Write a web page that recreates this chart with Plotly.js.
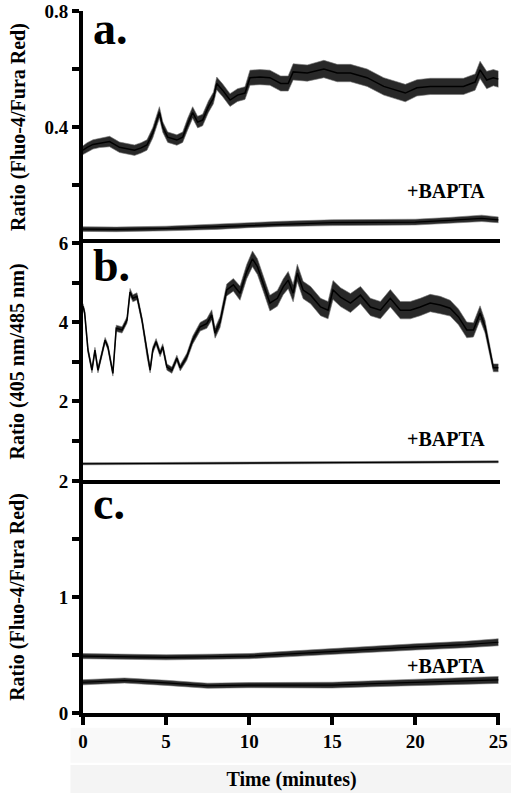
<!DOCTYPE html>
<html>
<head>
<meta charset="utf-8">
<script src="https://cdn.plot.ly/plotly-3.0.1.min.js"></script>
<style>html,body{margin:0;padding:0;background:#fff;}#chart{width:511px;height:793px;}</style>
</head>
<body>
<div id="chart"></div>
<script>
// ---- Data (time in minutes) ----
// Panel a: Fluo-4/Fura Red ratio (control) and +BAPTA
const aTime   = [0,0.25,0.6,1.0,1.6,2.2,2.7,3.1,3.5,3.85,4.2,4.6,4.8,5.1,5.65,6.0,6.3,6.6,6.9,7.2,7.55,7.85,8.05,8.4,8.85,9.3,9.75,10.05,10.65,11.25,11.9,12.35,12.65,13.5,14.5,15.3,16.1,17.1,18.1,18.9,19.4,20.1,20.9,21.9,22.9,23.6,23.9,24.3,24.7,25.0];
const aRatio  = [0.32,0.33,0.34,0.345,0.35,0.33,0.325,0.32,0.328,0.338,0.38,0.45,0.40,0.365,0.355,0.365,0.41,0.45,0.417,0.424,0.47,0.50,0.55,0.527,0.493,0.51,0.517,0.57,0.572,0.57,0.55,0.55,0.59,0.586,0.60,0.586,0.586,0.57,0.54,0.527,0.517,0.535,0.54,0.54,0.54,0.555,0.597,0.562,0.57,0.565];
const aSpread = [0.015,0.016,0.016,0.016,0.018,0.018,0.018,0.018,0.018,0.018,0.018,0.02,0.018,0.018,0.018,0.018,0.02,0.02,0.02,0.02,0.02,0.02,0.022,0.022,0.022,0.022,0.022,0.026,0.026,0.026,0.026,0.026,0.028,0.028,0.03,0.03,0.03,0.03,0.03,0.03,0.03,0.028,0.028,0.028,0.028,0.028,0.03,0.03,0.028,0.028];
const aBaptaTime   = [0,2,5,8,10,12,15,18,20,22,24,25];
const aBaptaRatio  = [0.048,0.047,0.05,0.056,0.062,0.066,0.07,0.071,0.072,0.078,0.085,0.08];
const aBaptaSpread = [0.008,0.008,0.008,0.009,0.009,0.009,0.01,0.01,0.01,0.01,0.011,0.01];

// Panel b: 405 nm / 485 nm ratio (control) and +BAPTA
const bTime   = [0,0.1,0.3,0.54,0.72,0.9,1.14,1.33,1.5,1.8,2.0,2.35,2.65,2.83,3.0,3.25,3.55,3.85,4.04,4.2,4.4,4.64,4.8,5.05,5.35,5.65,5.85,6.25,6.6,7.05,7.45,7.75,7.95,8.25,8.65,9.05,9.45,9.85,10.2,10.5,10.85,11.25,11.7,12.05,12.35,12.65,12.9,13.25,13.7,14.3,14.75,15.05,15.5,16.1,16.7,17.3,17.9,18.5,19.1,19.7,20.3,20.9,21.5,22.1,22.6,23.1,23.5,23.9,24.2,24.5,24.7,25.0];
const bRatio  = [4.4,4.23,3.29,2.78,3.29,2.78,3.2,3.54,3.37,2.7,3.84,3.8,4.05,4.76,4.6,4.65,4.05,3.2,2.78,3.29,3.5,3.2,3.37,2.86,2.78,3.08,2.84,3.12,3.54,3.88,3.96,4.18,3.72,4.0,4.81,4.94,4.73,5.27,5.6,5.4,4.98,4.48,4.6,4.89,5.06,4.73,5.24,4.81,4.68,4.38,4.3,4.81,4.63,4.48,4.68,4.38,4.3,4.6,4.3,4.3,4.38,4.48,4.43,4.35,4.13,3.8,3.8,4.23,3.88,3.2,2.84,2.84];
const bSpread = [0.07,0.07,0.07,0.07,0.07,0.07,0.07,0.07,0.07,0.07,0.08,0.08,0.08,0.09,0.09,0.09,0.08,0.08,0.07,0.08,0.08,0.08,0.08,0.08,0.08,0.08,0.08,0.09,0.1,0.11,0.12,0.13,0.13,0.14,0.15,0.16,0.18,0.18,0.2,0.2,0.2,0.2,0.2,0.2,0.22,0.22,0.22,0.22,0.22,0.22,0.22,0.24,0.24,0.24,0.22,0.22,0.22,0.22,0.22,0.22,0.22,0.22,0.22,0.2,0.2,0.2,0.18,0.18,0.16,0.12,0.1,0.1];
const bBaptaTime   = [0,5,10,15,20,25];
const bBaptaRatio  = [0.41,0.42,0.43,0.44,0.45,0.46];
const bBaptaSpread = [0.025,0.025,0.025,0.025,0.025,0.025];

// Panel c: Fluo-4/Fura Red ratio, two traces (upper and +BAPTA)
const cTime   = [0,2.5,5,7.5,10,12.5,15,18,20,23,25];
const cUpper  = [0.49,0.485,0.48,0.485,0.49,0.51,0.53,0.56,0.57,0.59,0.61];
const cLower  = [0.265,0.28,0.26,0.235,0.24,0.24,0.24,0.255,0.265,0.275,0.285];
const cSpread = [0.022,0.022,0.022,0.022,0.022,0.024,0.025,0.026,0.027,0.028,0.03];

// Axis tick definitions
const xTicks   = [0,5,10,15,20,25];
const aTickVals = [0.2,0.4,0.6,0.8];
const aTickText = ['','0.4','','0.8'];
const bTickVals = [1,2,3,4,5,6];
const bTickText = ['','2','','4','','6'];
const cTickVals = [0,0.5,1,1.5,2];
const cTickText = ['0','','1','','2'];

// ---- Build traces ----
function band(t, v, s, xa, ya, coreWidth) {
  const lo = v.map((val, i) => val - s[i]);
  const hi = v.map((val, i) => val + s[i]);
  return [
    {x: t, y: lo, xaxis: xa, yaxis: ya, mode: 'lines', line: {color: '#777', width: 0.6}, hoverinfo: 'skip', showlegend: false},
    {x: t, y: hi, xaxis: xa, yaxis: ya, mode: 'lines', fill: 'tonexty', fillcolor: 'rgba(10,10,10,0.88)', line: {color: '#777', width: 0.6}, hoverinfo: 'skip', showlegend: false},
    {x: t, y: v, xaxis: xa, yaxis: ya, mode: 'lines', line: {color: '#000', width: coreWidth}, showlegend: false}
  ];
}

const data = [].concat(
  band(aTime, aRatio, aSpread, 'x3', 'y', 1.5),
  band(aBaptaTime, aBaptaRatio, aBaptaSpread, 'x3', 'y', 1.2),
  band(bTime, bRatio, bSpread, 'x2', 'y2', 1.5),
  band(bBaptaTime, bBaptaRatio, bBaptaSpread, 'x2', 'y2', 1),
  band(cTime, cUpper, cSpread, 'x', 'y3', 1.2),
  band(cTime, cLower, cSpread, 'x', 'y3', 1.2)
);

const serif = 'Liberation Serif';
const tickFont = {family: serif, size: 19, color: '#000', weight: 700};
const titleFont = {family: serif, size: 20, color: '#000', weight: 700};
const letterFont = {family: serif, size: 46, color: '#000', weight: 700};
const noteFont = {family: serif, size: 20, color: '#000', weight: 700};

const yCommon = {
  showline: true, linewidth: 4, linecolor: '#000', ticks: 'outside', ticklen: 7, tickwidth: 4, tickcolor: '#000',
  showgrid: false, zeroline: false, tickfont: tickFont, tickmode: 'array', fixedrange: true
};

const layout = {
  width: 511, height: 793,
  margin: {l: 83, r: 11, t: 11, b: 80},
  paper_bgcolor: '#fff', plot_bgcolor: '#fff',
  showlegend: false,
  font: {family: serif},
  xaxis: {
    domain: [0, 1], anchor: 'y3', range: [0, 25.1], tickmode: 'array', tickvals: xTicks,
    showline: true, linewidth: 4, linecolor: '#000', ticks: 'outside', ticklen: 8, tickwidth: 4, tickcolor: '#000',
    showgrid: false, zeroline: false, tickfont: tickFont,
    title: {text: 'Time (minutes)', font: titleFont, standoff: 22}
  },
  xaxis2: {domain: [0, 1], anchor: 'y2', matches: 'x', range: [0, 25.1], showline: true, mirror: true, linewidth: 4, linecolor: '#000', ticks: '', showticklabels: false, showgrid: false, zeroline: false},
  xaxis3: {domain: [0, 1], anchor: 'y', matches: 'x', range: [0, 25.1], showline: false, ticks: '', showticklabels: false, showgrid: false, zeroline: false},
  yaxis: Object.assign({}, yCommon, {domain: [0.6695, 1], anchor: 'x3', range: [0, 0.8], tickvals: aTickVals, ticktext: aTickText,
    title: {text: 'Ratio (Fluo-4/Fura Red)', font: titleFont, standoff: 14}}),
  yaxis2: Object.assign({}, yCommon, {domain: [0.3319, 0.6695], anchor: 'x2', range: [0, 6], tickvals: bTickVals, ticktext: bTickText,
    title: {text: 'Ratio (405 nm/485 nm)', font: titleFont, standoff: 30}}),
  yaxis3: Object.assign({}, yCommon, {domain: [0, 0.3305], anchor: 'x', range: [0, 2], tickvals: cTickVals, ticktext: cTickText,
    title: {text: 'Ratio (Fluo-4/Fura Red)', font: titleFont, standoff: 30}}),
  shapes: [
    {type: 'rect', xref: 'paper', yref: 'paper', x0: -0.03, x1: 1.03, y0: -0.071, y1: -0.021, fillcolor: '#f9f9f9', line: {width: 0}, layer: 'below'},
    {type: 'rect', xref: 'paper', yref: 'paper', x0: -0.03, x1: 1.03, y0: -0.115, y1: -0.074, fillcolor: '#f4f4f4', line: {width: 0}, layer: 'below'}
  ],
  annotations: [
    {text: 'a.', xref: 'x3 domain', yref: 'y domain', x: 0.02, y: 1.045, xanchor: 'left', yanchor: 'top', showarrow: false, font: letterFont},
    {text: 'b.', xref: 'x2 domain', yref: 'y2 domain', x: 0.02, y: 1.02, xanchor: 'left', yanchor: 'top', showarrow: false, font: letterFont},
    {text: 'c.', xref: 'x domain', yref: 'y3 domain', x: 0.02, y: 1.02, xanchor: 'left', yanchor: 'top', showarrow: false, font: letterFont},
    {text: '+BAPTA', xref: 'x3', yref: 'y', x: 24.3, y: 0.179, xanchor: 'right', yanchor: 'middle', showarrow: false, font: noteFont},
    {text: '+BAPTA', xref: 'x2', yref: 'y2', x: 24.3, y: 1.04, xanchor: 'right', yanchor: 'middle', showarrow: false, font: noteFont},
    {text: '+BAPTA', xref: 'x', yref: 'y3', x: 24.3, y: 0.405, xanchor: 'right', yanchor: 'middle', showarrow: false, font: noteFont}
  ]
};

Plotly.newPlot('chart', data, layout, {staticPlot: true, displayModeBar: false});
</script>
</body>
</html>
